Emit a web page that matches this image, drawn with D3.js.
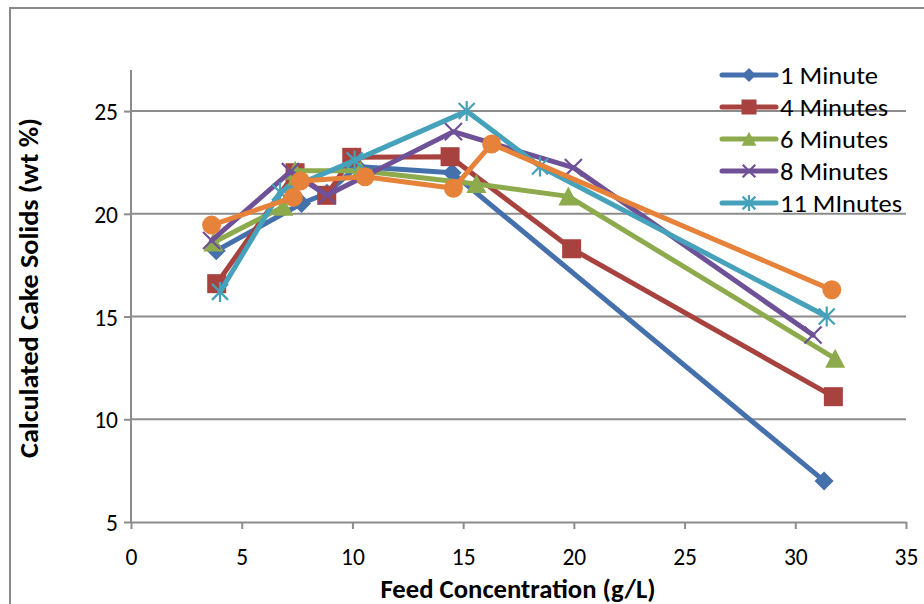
<!DOCTYPE html>
<html><head><meta charset="utf-8">
<script src="https://cdn.jsdelivr.net/npm/d3@7"></script>
<style>body{margin:0;background:#fff;} svg text{font-family:Carlito, Lato, "Open Sans", sans-serif;fill:#000;}</style>
</head><body><svg id="c" width="924" height="604"></svg>
<script>
// ---- data ----
const seriesNames = ["1 Minute","4 Minutes","6 Minutes","8 Minutes","11 MInutes",""];
const x1 = [3.85, 7.7, 8.85, 10.2, 14.5, 31.3];
const y1 = [18.2, 20.5, 21.0, 22.3, 22.0, 7.0];
const x4 = [3.87, 7.41, 8.84, 9.97, 14.41, 19.9, 31.72];
const y4 = [16.6, 22.0, 20.9, 22.75, 22.78, 18.3, 11.1];
const x6 = [3.72, 6.88, 7.41, 10.35, 15.6, 19.75, 31.8];
const y6 = [18.6, 20.35, 22.1, 22.1, 21.45, 20.85, 12.95];
const x8 = [3.64, 7.2, 8.85, 14.56, 19.98, 30.8];
const y8 = [18.7, 22.05, 20.9, 24.0, 22.25, 14.1];
const x11 = [4.02, 6.73, 10.1, 15.16, 18.47, 31.42];
const y11 = [16.2, 21.05, 22.6, 25.0, 22.3, 15.0];
const xO = [3.64, 7.33, 7.65, 10.57, 14.56, 16.29, 31.65];
const yO = [19.45, 20.8, 21.6, 21.8, 21.24, 23.4, 16.3];
const xTicks = [0,5,10,15,20,25,30,35];
const yTicks = [5,10,15,20,25];
const colors = ["#4470AC","#A8423F","#8DAA4C","#6E5197","#46A1BA","#E6823A"];
const markers = ["diamond","square","triangle","x","star","circle"];

const series = [[x1,y1],[x4,y4],[x6,y6],[x8,y8],[x11,y11],[xO,yO]].map((s,i)=>({
  name: seriesNames[i], color: colors[i], marker: markers[i],
  pts: s[0].map((v,j)=>({x:v,y:s[1][j]}))
}));

const svg = d3.select("#c");
const x = d3.scaleLinear().domain([0,35]).range([131,906]);
const y = d3.scaleLinear().domain([5,27]).range([522,70]);

// outer border
svg.append("rect").attr("x",10).attr("y",8).attr("width",930).attr("height",620)
  .attr("fill","none").attr("stroke","#8a8a8a").attr("stroke-width",2);

// gridlines
svg.append("g").selectAll("line").data(yTicks.filter(d=>d>5)).join("line")
  .attr("x1",x(0)).attr("x2",x(35)).attr("y1",d=>y(d)).attr("y2",d=>y(d))
  .attr("stroke","#8c8c8c").attr("stroke-width",2);

// axes
const gx = svg.append("g").attr("transform",`translate(0,${y(5)})`)
  .call(d3.axisBottom(x).tickValues(xTicks).tickSize(7).tickSizeOuter(0).tickFormat(d3.format("d")));
const gy = svg.append("g").attr("transform",`translate(${x(0)},0)`)
  .call(d3.axisLeft(y).tickValues(yTicks).tickSize(7).tickSizeOuter(0).tickFormat(d3.format("d")));
[gx,gy].forEach(g=>{
  g.select(".domain").attr("stroke","#8c8c8c").attr("stroke-width",2);
  g.selectAll(".tick line").attr("stroke","#8c8c8c").attr("stroke-width",2);
  g.selectAll("text").style("font-size","23.5px").attr("fill","#000");
});
gy.select(".domain").attr("d",`M0,${y(5)}V${y(27)}`);
gx.selectAll("text").attr("y",43).attr("dy",null);
gy.selectAll("text").attr("x",-13).attr("dy","0.36em");

// titles
svg.append("text").attr("x",518).attr("y",598).attr("text-anchor","middle")
  .style("font-size","26px").style("font-weight","bold")
  .attr("textLength",275).attr("lengthAdjust","spacingAndGlyphs").text("Feed Concentration (g/L)");
svg.append("text").attr("transform","translate(38,288) rotate(-90)").attr("text-anchor","middle")
  .style("font-size","26px").style("font-weight","bold")
  .attr("textLength",340).attr("lengthAdjust","spacingAndGlyphs").text("Calculated Cake Solids (wt %)");

function drawMarker(g, type, cx, cy, color, s){
  if(type==="diamond"){
    g.append("path").attr("d",`M${cx},${cy-s}L${cx+s},${cy}L${cx},${cy+s}L${cx-s},${cy}Z`).attr("fill",color);
  } else if(type==="square"){
    g.append("rect").attr("x",cx-s).attr("y",cy-s).attr("width",2*s).attr("height",2*s).attr("fill",color);
  } else if(type==="triangle"){
    g.append("path").attr("d",`M${cx},${cy-s*1.05}L${cx+s*1.05},${cy+s*0.95}L${cx-s*1.05},${cy+s*0.95}Z`).attr("fill",color);
  } else if(type==="circle"){
    g.append("circle").attr("cx",cx).attr("cy",cy).attr("r",s).attr("fill",color);
  } else if(type==="x"){
    const d=s*0.9;
    g.append("path").attr("d",`M${cx-d},${cy-d}L${cx+d},${cy+d}M${cx-d},${cy+d}L${cx+d},${cy-d}`)
      .attr("stroke",color).attr("stroke-width",2.2).attr("fill","none");
  } else if(type==="star"){
    const d=s*0.8;
    g.append("path").attr("d",`M${cx-d},${cy-d}L${cx+d},${cy+d}M${cx-d},${cy+d}L${cx+d},${cy-d}M${cx},${cy-s}L${cx},${cy+s}`)
      .attr("stroke",color).attr("stroke-width",2.2).attr("fill","none");
  }
}

const line = d3.line().x(d=>x(d.x)).y(d=>y(d.y));
series.forEach(s=>{
  const g = svg.append("g");
  g.append("path").attr("d",line(s.pts)).attr("fill","none").attr("stroke",s.color)
    .attr("stroke-width",5).attr("stroke-linejoin","round").attr("stroke-linecap","round");
  const sz = {diamond:9.5,square:9.5,triangle:9.5,circle:9.5,x:9.5,star:10}[s.marker];
  s.pts.forEach(p=>drawMarker(g,s.marker,x(p.x),y(p.y),s.color,sz));
});

// legend
const legendW = [98,108,108,108,122];
const lg = svg.append("g");
series.filter(s=>s.name).forEach((s,i)=>{
  const yy = 75 + i*32;
  lg.append("line").attr("x1",722).attr("x2",776).attr("y1",yy).attr("y2",yy)
    .attr("stroke",s.color).attr("stroke-width",5).attr("stroke-linecap","round");
  drawMarker(lg,s.marker,749,yy,s.color,{diamond:7,square:7.5,triangle:7,circle:7,x:7,star:8}[s.marker]);
  lg.append("text").attr("x",780).attr("y",yy).attr("dy","0.36em").style("font-size","25px")
    .attr("textLength",legendW[i]).attr("lengthAdjust","spacingAndGlyphs").text(s.name);
});
</script></body></html>
